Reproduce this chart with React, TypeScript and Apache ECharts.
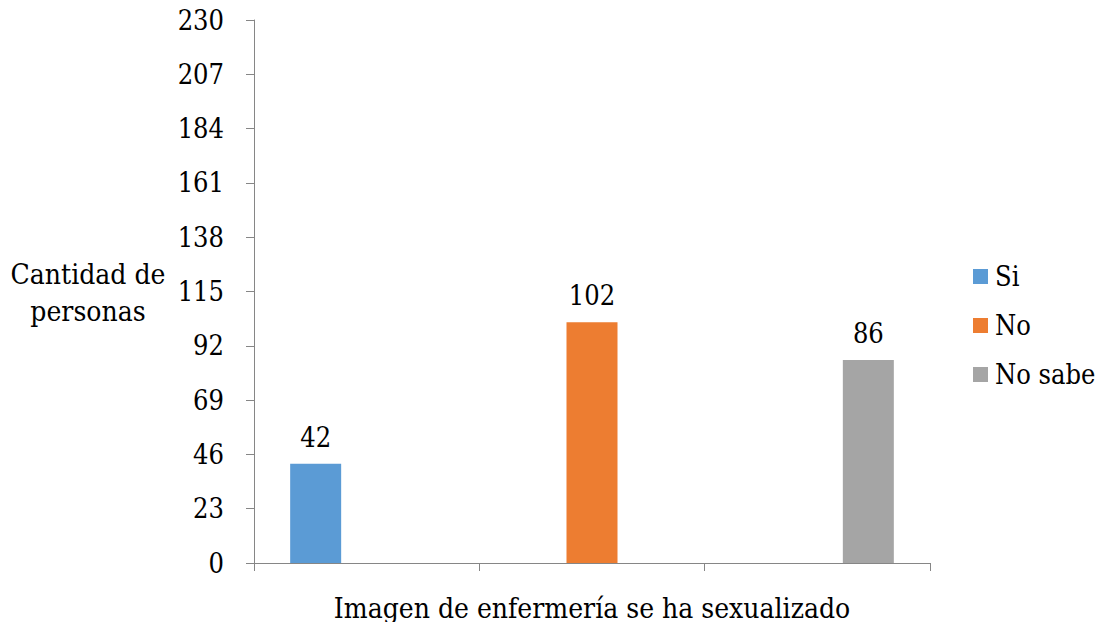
import React, { useEffect, useRef } from "react";
import * as echarts from "echarts";

const categories = ["A", "B", "C"];
const seriesNames = ["Si", "No", "No sabe"];
const siValues = [42, "-", "-"];
const noValues = ["-", 102, "-"];
const noSabeValues = ["-", "-", 86];
const colors = ["#5B9BD5", "#ED7D31", "#A5A5A5"];
const yMax = 230;
const yStep = 23;
const xTitle = "Imagen de enfermería se ha sexualizado";
const yTitle = "Cantidad de\npersonas";

const FONT = "DejaVu Serif Condensed";

export default function App() {
  const ref = useRef<HTMLDivElement>(null);
  useEffect(() => {
    if (!ref.current) return;
    const chart = echarts.init(ref.current, undefined, { renderer: "svg" });
    const allValues = [siValues, noValues, noSabeValues];
    chart.setOption({
      animation: false,
      backgroundColor: "#ffffff",
      textStyle: { fontFamily: FONT },
      grid: { left: 254, right: 177, top: 20, bottom: 67, containLabel: false, outerBoundsMode: "none" },
      legend: {
        orient: "vertical",
        left: 968,
        top: 258,
        itemWidth: 15,
        itemHeight: 15,
        itemGap: 22,
        icon: "rect",
        textStyle: { fontFamily: FONT, fontSize: 27, color: "#000", padding: [0, 0, 0, 2] },
        data: seriesNames,
      },
      xAxis: {
        type: "category",
        data: categories,
        axisLine: { lineStyle: { color: "#868686", width: 1 } },
        axisTick: { show: true, length: 8, lineStyle: { color: "#868686" } },
        axisLabel: { show: false },
        name: xTitle,
        nameLocation: "middle",
        nameGap: 31,
        nameTextStyle: { fontFamily: FONT, fontSize: 28, color: "#000" },
      },
      yAxis: {
        type: "value",
        min: 0,
        max: yMax,
        interval: yStep,
        splitLine: { show: false },
        axisLine: { show: true, lineStyle: { color: "#868686", width: 1 } },
        axisTick: { show: true, length: 8, lineStyle: { color: "#868686" } },
        axisLabel: { fontFamily: FONT, fontSize: 27, color: "#000", margin: 30 },
      },
      graphic: [
        {
          type: "text",
          x: 88,
          y: 256,
          style: {
            text: yTitle,
            fontFamily: FONT,
            fontSize: 28,
            fill: "#000",
            align: "center",
            lineHeight: 37,
          },
        },
      ],
      series: seriesNames.map((name, i) => ({
        name,
        type: "bar",
        data: allValues[i],
        barWidth: 51,
        barGap: "0%",
        itemStyle: { color: colors[i] },
        label: {
          show: true,
          position: "top",
          distance: 13,
          fontFamily: FONT,
          fontSize: 27,
          color: "#000",
        },
      })),
    });
    return () => chart.dispose();
  }, []);
  return <div ref={ref} style={{ width: 1107, height: 630, margin: -8 }} />;
}
